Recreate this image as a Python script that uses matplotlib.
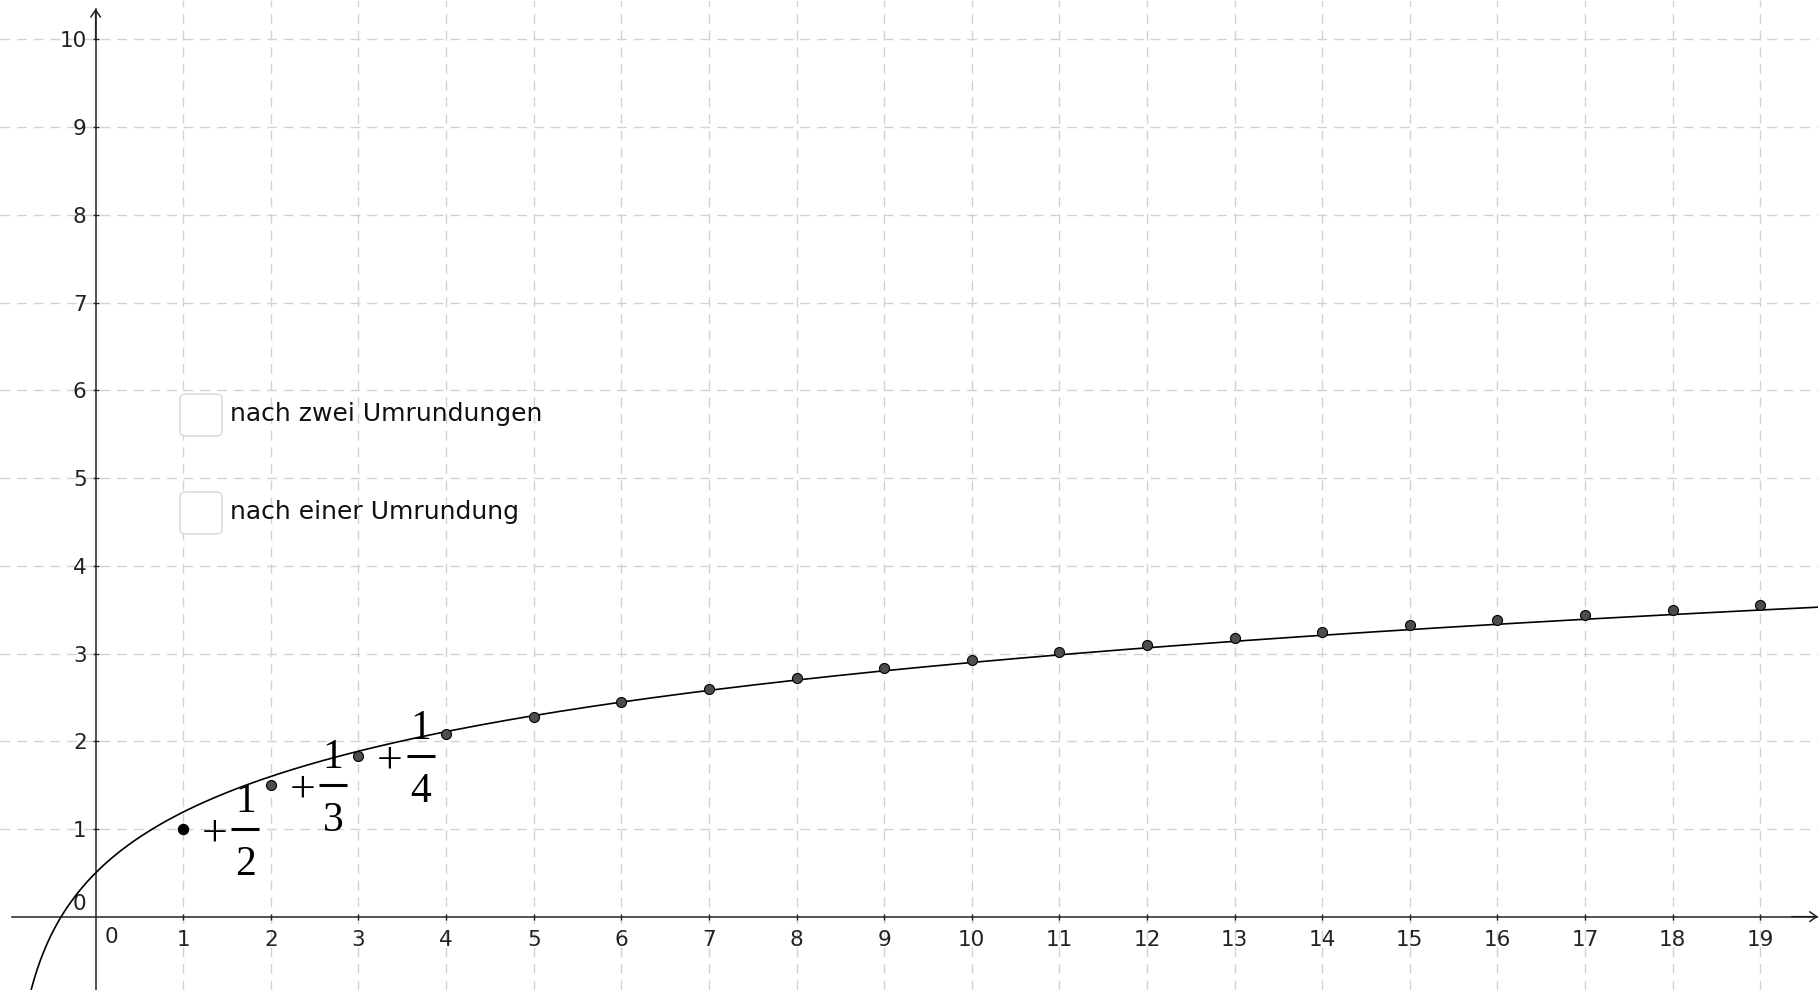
import numpy as np
import matplotlib.pyplot as plt
from matplotlib.patches import FancyBboxPatch

# Punkte: Partialsummen der harmonischen Reihe
n_values = list(range(1, 20))
h_values = [1.00, 1.50, 1.83, 2.08, 2.28, 2.45, 2.59, 2.72, 2.83, 2.93,
            3.02, 3.10, 3.18, 3.25, 3.32, 3.38, 3.44, 3.50, 3.55]

# Kurve y = ln(x + 1) + 0.5
curve_shift = 1.0
curve_offset = 0.5

# Brüche an den ersten Punkten
frac_n = [1, 2, 3]
frac_den = ["2", "3", "4"]

checkbox_labels = ["nach zwei Umrundungen", "nach einer Umrundung"]

x_ticks = list(range(1, 20))
y_ticks = list(range(1, 11))

XMIN, XMAX = -1.092, 19.66
YMIN, YMAX = -0.836, 10.45


def main():
    fig = plt.figure(figsize=(18.18, 9.9), dpi=100)
    ax = fig.add_axes([0, 0, 1, 1])
    ax.set_xlim(XMIN, XMAX)
    ax.set_ylim(YMIN, YMAX)

    # Gitter
    grid_kw = dict(color="#d2d2d2", lw=1.0, ls=(0, (7, 5)), zorder=0)
    for x in x_ticks:
        ax.axvline(x, **grid_kw)
    for y in y_ticks:
        ax.axhline(y, **grid_kw)

    # Achsen
    for s in ["top", "right"]:
        ax.spines[s].set_visible(False)
    ax.spines["left"].set_position(("data", 0))
    ax.spines["bottom"].set_position(("data", 0))
    ax.spines["bottom"].set_bounds(-0.955, XMAX)
    ax.spines["left"].set_bounds(YMIN, 10.35)
    for s in ["left", "bottom"]:
        ax.spines[s].set_linewidth(1.1)
        ax.spines[s].set_color("#222222")
    ax.set_xticks(x_ticks)
    ax.set_yticks(y_ticks)
    ax.tick_params(direction="inout", length=5, width=1.0, labelsize=15.5,
                   colors="#222222", pad=4)
    ax.tick_params(axis="x", pad=7)

    arrow = dict(arrowstyle="->,head_length=0.5,head_width=0.35", lw=1.1,
                 color="#222222", shrinkA=0, shrinkB=0)
    ax.annotate("", xy=(0, 10.35), xytext=(0, 10.0), arrowprops=arrow)
    ax.annotate("", xy=(XMAX, 0), xytext=(XMAX - 0.3, 0), arrowprops=arrow)

    # Null-Beschriftungen
    ax.text(0.18, -0.23, "0", fontsize=15.5, ha="center", va="center", color="#222222")
    ax.text(-0.19, 0.14, "0", fontsize=15.5, ha="center", va="center", color="#222222")

    # Kurve
    xs = np.linspace(-0.74, XMAX, 600)
    ax.plot(xs, np.log(xs + curve_shift) + curve_offset, color="black", lw=1.2, zorder=3)

    # Punkte
    ax.scatter(n_values[1:], h_values[1:], s=52, color="#4d4d4d",
               edgecolors="black", linewidths=0.8, zorder=4)
    ax.scatter(n_values[:1], h_values[:1], s=52, color="black", zorder=4)

    # + 1/k Beschriftungen
    serif = "Liberation Serif"
    for n, den in zip(frac_n, frac_den):
        y = h_values[n - 1]
        ax.text(n + 0.36, y, "+", family=serif, fontsize=33, ha="center",
                va="center_baseline", zorder=5)
        ax.plot([n + 0.55, n + 0.87], [y, y], color="black", lw=2.2,
                solid_capstyle="butt", zorder=5)
        ax.text(n + 0.71, y + 0.19, "1", family=serif, fontsize=30, ha="center",
                va="baseline", zorder=5)
        ax.text(n + 0.71, y - 0.52, den, family=serif, fontsize=30, ha="center",
                va="baseline", zorder=5)

    # Kontrollkästchen
    for i, label in enumerate(checkbox_labels):
        top = 394 + i * 98
        box = FancyBboxPatch((180 / 1818, (990 - top - 42) / 990), 42 / 1818, 42 / 990,
                             boxstyle="round,pad=0,rounding_size=0.004",
                             transform=fig.transFigure, facecolor="white",
                             edgecolor="#d8d8d8", lw=1.0, zorder=6)
        fig.patches.append(box)
        fig.text(230 / 1818, (990 - top - 20) / 990, label, fontsize=18,
                 ha="left", va="center", color="#111111")

    fig.savefig("out.png", dpi=100)


if __name__ == "__main__":
    main()
